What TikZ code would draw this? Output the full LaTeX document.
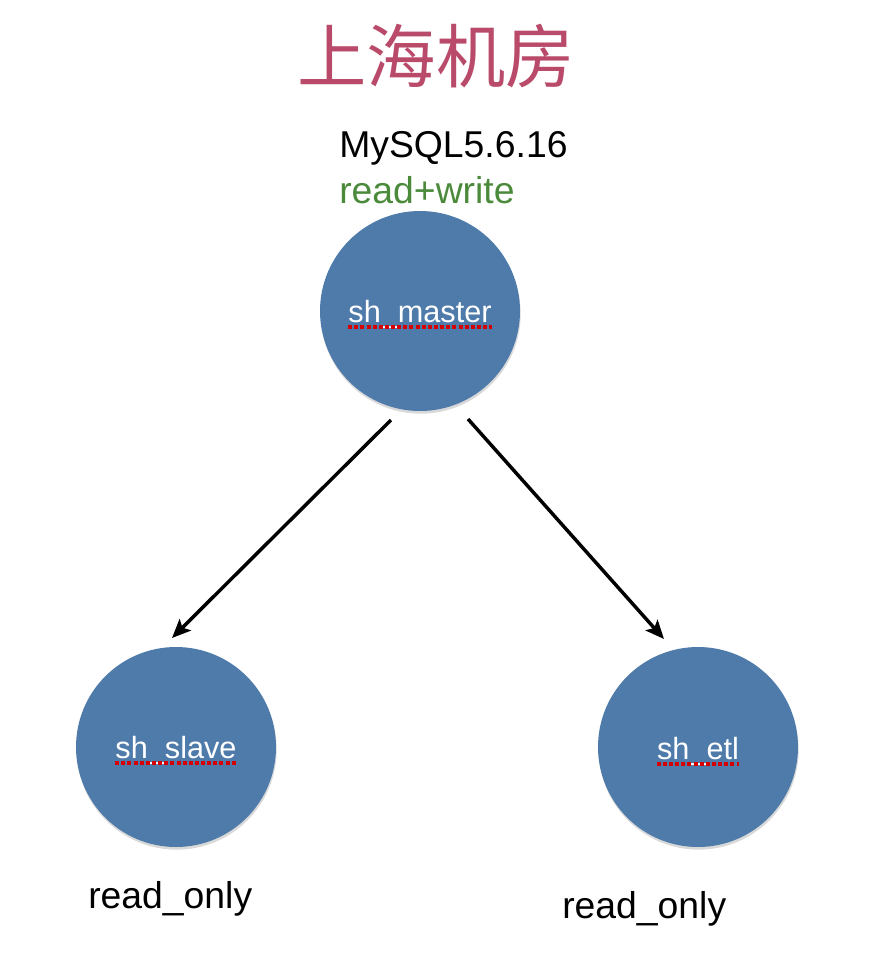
\documentclass[tikz,border=0pt]{standalone}
\usepackage{fontspec}
\setmainfont{Liberation Sans}
\newfontfamily\cjkfont{Noto Sans CJK SC}
\usetikzlibrary{arrows.meta,shadows,calc}

\definecolor{dbblue}{RGB}{79,123,171}
\definecolor{titlered}{RGB}{185,74,106}
\definecolor{rwgreen}{RGB}{74,138,58}
\definecolor{spellred}{RGB}{215,0,0}

\tikzset{
  db/.style={circle, fill=dbblue, inner sep=0pt, minimum size=150pt,
    drop shadow={shadow xshift=0.5pt, shadow yshift=-2pt, opacity=0.3}},
  dblabel/.style={anchor=base, inner sep=0pt, text=white, font=\fontsize{23}{27}\selectfont},
  note/.style={anchor=base west, inner sep=0pt, font=\fontsize{28}{33}\selectfont},
  spell/.style={draw=spellred, line width=2.4pt, dash pattern=on 3pt off 1.6pt},
  flow/.style={draw=black, line width=2.6pt, -{Stealth[length=14pt,width=12pt,inset=3pt]}},
}

\begin{document}
\begin{tikzpicture}[x=0.75pt,y=0.75pt,yscale=-1,xscale=1]
\useasboundingbox (0,0) rectangle (890,964);

% Title
\node [anchor=base, inner sep=0pt, text=titlered, font=\cjkfont\fontsize{52}{62}\selectfont] (title) at (436,82) {上海机房};

%Shape: Circle
\node [db] (master) at (420,311) {};
\node [db] (slave) at (176,747) {};
\node [db] (etl) at (698,747) {};

% Text Node
\node [dblabel] (master-lbl) at (420,322) {sh\_master};
\node [dblabel] (slave-lbl) at (176,758) {sh\_slave};
\node [dblabel] (etl-lbl) at (698,759) {sh\_etl};

% spell check marks
\foreach \n in {master-lbl,slave-lbl,etl-lbl}
  \draw [spell] ($(\n.base west)+(0,5)$) -- ($(\n.base east)+(0,5)$);

% Text Node
\node [note] (ver) at (339,157) {MySQL5.6.16};
\node [note, text=rwgreen] (rw) at (339,203) {read+write};
\node [note] (slave-note) at (88,908) {read\_only};
\node [note] (etl-note) at (562,918) {read\_only};

%Straight Lines
\draw [flow] ($(master)+(-29,109)$) -- ($(slave)+(-4,-109)$);
\draw [flow] ($(master)+(48,108)$) -- ($(etl)+(-34,-108)$);

\end{tikzpicture}
\end{document}
